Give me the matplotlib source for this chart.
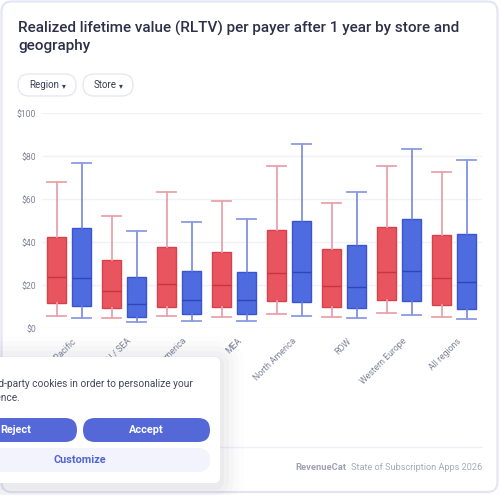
import matplotlib
matplotlib.use("Agg")
import matplotlib.pyplot as plt
from matplotlib.patches import FancyBboxPatch
import numpy as np

plt.rcParams['font.family'] = ['Roboto', 'DejaVu Sans']

# ---------------- data ----------------
regions = ["Asia-Pacific", "IN / SEA", "Latin America", "MEA", "North America",
           "ROW", "Western Europe", "All regions"]
# red store
red_low = [5.9, 4.9, 5.7, 5.4, 6.5, 5.3, 7.3, 5.4]
red_q1 = [11.6, 9.3, 10.1, 10.1, 12.9, 9.8, 13.3, 11.0]
red_med = [24.0, 17.3, 20.5, 20.0, 25.9, 19.5, 26.3, 23.3]
red_q3 = [42.6, 31.8, 37.7, 35.6, 45.7, 36.7, 47.0, 43.2]
red_high = [68.2, 52.4, 63.4, 59.4, 75.6, 58.4, 75.6, 72.5]
# blue store
blue_low = [4.9, 2.8, 3.6, 3.6, 5.7, 4.9, 6.2, 4.5]
blue_q1 = [10.5, 5.4, 6.5, 6.6, 12.1, 9.3, 12.7, 9.1]
blue_med = [23.3, 11.4, 13.3, 13.0, 26.3, 19.2, 26.8, 21.5]
blue_q3 = [46.8, 23.7, 26.7, 26.3, 49.8, 38.7, 51.0, 43.7]
blue_high = [77.0, 45.4, 49.6, 50.7, 85.6, 63.4, 83.4, 78.1]
yticks = [0, 20, 40, 60, 80, 100]
ytick_labels = ["$0", "$20", "$40", "$60", "$80", "$100"]

W, H = 500, 495
fig = plt.figure(figsize=(W / 100, H / 100), dpi=100)
fig.patch.set_facecolor("white")
renderer = fig.canvas.get_renderer()

def fit(t, target_px):
    # scale the font so that the text's width matches the target width in pixels
    w = t.get_window_extent(renderer=renderer).width
    t.set_fontsize(t.get_fontsize() * target_px / w)
    return t

def fpos(x0, y0, x1, y1):
    return [x0 / W, 1 - y1 / H, (x1 - x0) / W, (y1 - y0) / H]

# background overlay (pixel coords)
bg = fig.add_axes([0, 0, 1, 1], zorder=0)
bg.set_xlim(0, W); bg.set_ylim(H, 0); bg.axis("off")
bg.add_patch(FancyBboxPatch((1.5, 1.5), W - 4, H - 4.5, boxstyle="round,pad=0,rounding_size=10",
                            fc="white", ec="#e2e5f6", lw=1.5))
t1 = bg.text(18, 28, "Realized lifetime value (RLTV) per payer after 1 year by store and",
             fontsize=11.5, color="#2e3049", va="center", ha="left", fontweight="medium")
fit(t1, 442)
bg.text(18, 46, "geography", fontsize=t1.get_fontsize(), color="#2e3049", va="center",
        ha="left", fontweight="medium")
for (x0, x1, lab) in [(18, 76, "Region"), (83, 133, "Store")]:
    bg.add_patch(FancyBboxPatch((x0, 74), x1 - x0, 22, boxstyle="round,pad=0,rounding_size=11",
                                fc="white", ec="#e4e6ee", lw=0.9))
    bg.text(x0 + 11, 85, lab, fontsize=7, color="#3a3c55", va="center", ha="left")
    bg.text(x1 - 10, 85.5, "\u25be", fontsize=5.5, color="#3a3c55", va="center", ha="right",
            family=['DejaVu Sans'])
bg.plot([40, 482], [447, 447], color="#eef0f6", lw=1)
tf = bg.text(482, 468, "State of Subscription Apps 2026", fontsize=7, color="#a7a9bb",
             ha="right", va="center")
fit(tf, 131)
tr = bg.text(346, 468, "RevenueCat", fontsize=7.2, color="#a0a2b5", ha="right", va="center",
             fontweight="bold")
fit(tr, 51)

# ---------------- chart ----------------
ax = fig.add_axes(fpos(41.5, 113.3, 481.5, 328.3), zorder=2)
ax.patch.set_alpha(0)
n = len(regions)
x = np.arange(n)
off = 12.5 / 55
wid = 18.5 / 55

def stats(low, q1, med, q3, high):
    return [dict(whislo=a, q1=b, med=c, q3=d, whishi=e, fliers=[])
            for a, b, c, d, e in zip(low, q1, med, q3, high)]

red_stats = stats(red_low, red_q1, red_med, red_q3, red_high)
blue_stats = stats(blue_low, blue_q1, blue_med, blue_q3, blue_high)

ax.bxp(red_stats, positions=x - off, widths=wid, patch_artist=True, showfliers=False,
       boxprops=dict(facecolor="#e8555f", edgecolor="#d8404c", lw=1.0),
       medianprops=dict(color="#c8353f", lw=1.0),
       whiskerprops=dict(color="#e8a3aa", lw=1.3),
       capprops=dict(color="#e8a3aa", lw=1.3), capwidths=wid, manage_ticks=False)
ax.bxp(blue_stats, positions=x + off, widths=wid, patch_artist=True, showfliers=False,
       boxprops=dict(facecolor="#4f6be0", edgecolor="#3a55cf", lw=1.0),
       medianprops=dict(color="#2f46b5", lw=1.0),
       whiskerprops=dict(color="#6a7fdc", lw=1.1),
       capprops=dict(color="#8b9ae3", lw=1.3), capwidths=wid, manage_ticks=False)

ax.set_xlim(-0.5, n - 0.5)
ax.set_ylim(0, 100)
ax.set_yticks(yticks)
ax.set_yticklabels(ytick_labels)
ax.set_xticks(x + 0.05)
ax.set_xticklabels(regions, rotation=45, ha="right", rotation_mode="anchor")
ax.tick_params(axis="both", length=0, labelsize=6.2, labelcolor="#7f8196")
ax.tick_params(axis="x", pad=6)
ax.tick_params(axis="y", pad=4)
ax.grid(axis="y", color="#f1f2f5", lw=1)
ax.set_axisbelow(True)
for s in ax.spines.values():
    s.set_visible(False)

# ---------------- cookie banner overlay ----------------
fg = fig.add_axes([0, 0, 1, 1], zorder=10)
fg.set_xlim(0, W); fg.set_ylim(H, 0); fg.axis("off")
fg.patch.set_alpha(0)
for i, a in enumerate([0.025, 0.02, 0.015, 0.01, 0.006]):
    g = 4 + i * 5
    fg.add_patch(FancyBboxPatch((-60 - g, 357 - g + 3), 280 + 2 * g, 126 + 2 * g,
                                boxstyle="round,pad=0,rounding_size=%d" % (6 + g),
                                fc="#202040", ec="none", alpha=a))
fg.add_patch(FancyBboxPatch((-60, 357), 280, 126, boxstyle="round,pad=0,rounding_size=6",
                            fc="white", ec="none"))
tc = fg.text(193, 384, "d-party cookies in order to personalize your", fontsize=7.6,
             color="#45475e", ha="right", va="center")
fit(tc, 194)
tc.set_text("We use third-party cookies in order to personalize your")
tc.set_clip_on(True)
fg.text(20, 398, "experience.", fontsize=tc.get_fontsize(), color="#45475e",
        ha="right", va="center", clip_on=True)
fg.add_patch(FancyBboxPatch((-60, 418), 137, 24, boxstyle="round,pad=0,rounding_size=12",
                            fc="#5468d8", ec="none"))
fg.text(0, 430, "Reject", fontsize=7.8, color="white", ha="left", va="center",
        fontweight="bold", clip_on=True)
fg.add_patch(FancyBboxPatch((83, 418), 127, 24, boxstyle="round,pad=0,rounding_size=12",
                            fc="#5468d8", ec="none"))
fg.text(146.5, 430, "Accept", fontsize=7.8, color="white", ha="center", va="center",
        fontweight="bold")
fg.add_patch(FancyBboxPatch((-60, 448), 270, 24, boxstyle="round,pad=0,rounding_size=12",
                            fc="#f2f3fc", ec="none"))
fg.text(80, 460, "Customize", fontsize=7.8, color="#5064d4", ha="center", va="center",
        fontweight="bold")

fig.savefig("out.png", dpi=100, facecolor="white")
